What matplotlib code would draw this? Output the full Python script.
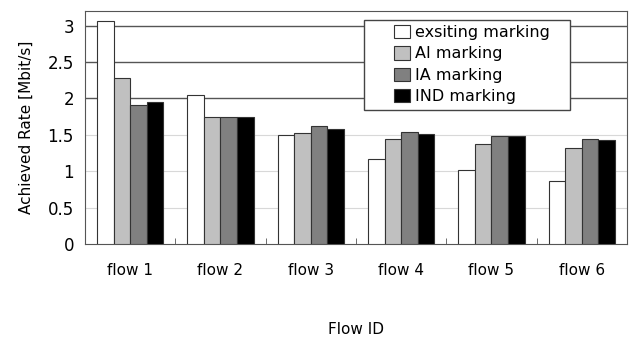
import matplotlib.pyplot as plt
import numpy as np
from matplotlib.patches import Rectangle

flows = ['flow 1', 'flow 2', 'flow 3', 'flow 4', 'flow 5', 'flow 6']
existing = [3.07, 2.05, 1.50, 1.17, 1.02, 0.86]
ai = [2.28, 1.75, 1.53, 1.44, 1.37, 1.32]
ia = [1.91, 1.75, 1.62, 1.54, 1.49, 1.44]
ind = [1.95, 1.74, 1.58, 1.51, 1.48, 1.43]

labels = ['exsiting marking', 'AI marking', 'IA marking', 'IND marking']
colors = ['white', '#c0c0c0', '#808080', 'black']

fig = plt.figure(figsize=(6.32, 3.38), dpi=100)
ax = fig.add_axes([0.1345, 0.278, 0.8575, 0.689])

x = np.arange(len(flows))
w = 0.183
for i, (vals, lab, c) in enumerate(zip([existing, ai, ia, ind], labels, colors)):
    ax.bar(x + (i - 1.5) * w, vals, w, color=c, edgecolor='#333333', linewidth=0.8, label=lab, zorder=3)

ax.set_xlim(-0.5, 5.5)
ax.set_ylim(0, 3.2)
ax.set_yticks([0, 0.5, 1, 1.5, 2, 2.5, 3])
ax.set_yticklabels(['0', '0.5', '1', '1.5', '2', '2.5', '3'], fontsize=12)
for yv in [0.5, 1, 1.5]:
    ax.axhline(yv, color='#d8d8d8', linewidth=0.8, zorder=1)
for yv in [2, 2.5, 3]:
    ax.axhline(yv, color='#555555', linewidth=1.0, zorder=1)

ax.set_xticks(x)
ax.set_xticklabels(flows, fontsize=11)
ax.tick_params(axis='x', length=0, pad=14)
ax.tick_params(axis='y', length=0, pad=8)
ax.set_xticks(np.arange(0.5, 5.5, 1), minor=True)
ax.tick_params(axis='x', which='minor', direction='in', length=4, color='#555555')

for s in ax.spines.values():
    s.set_color('#555555')

ax.set_ylabel('Achieved Rate [Mbit/s]', fontsize=11, labelpad=10)
ax.set_xlabel('Flow ID', fontsize=11, labelpad=31)

# legend box (wider than the entries, as in the original)
ax.add_patch(Rectangle((0.515, 0.575), 0.38, 0.386, transform=ax.transAxes,
                       facecolor='white', edgecolor='#444444', linewidth=1.0, zorder=4))
leg = ax.legend(loc='upper left', bbox_to_anchor=(0.57, 0.94), fontsize=11.5,
                frameon=False, handlelength=1.0, handleheight=0.9, handletextpad=0.3,
                labelspacing=0.38, borderpad=0, borderaxespad=0)
leg.set_zorder(5)

plt.savefig('out.png', dpi=100)
